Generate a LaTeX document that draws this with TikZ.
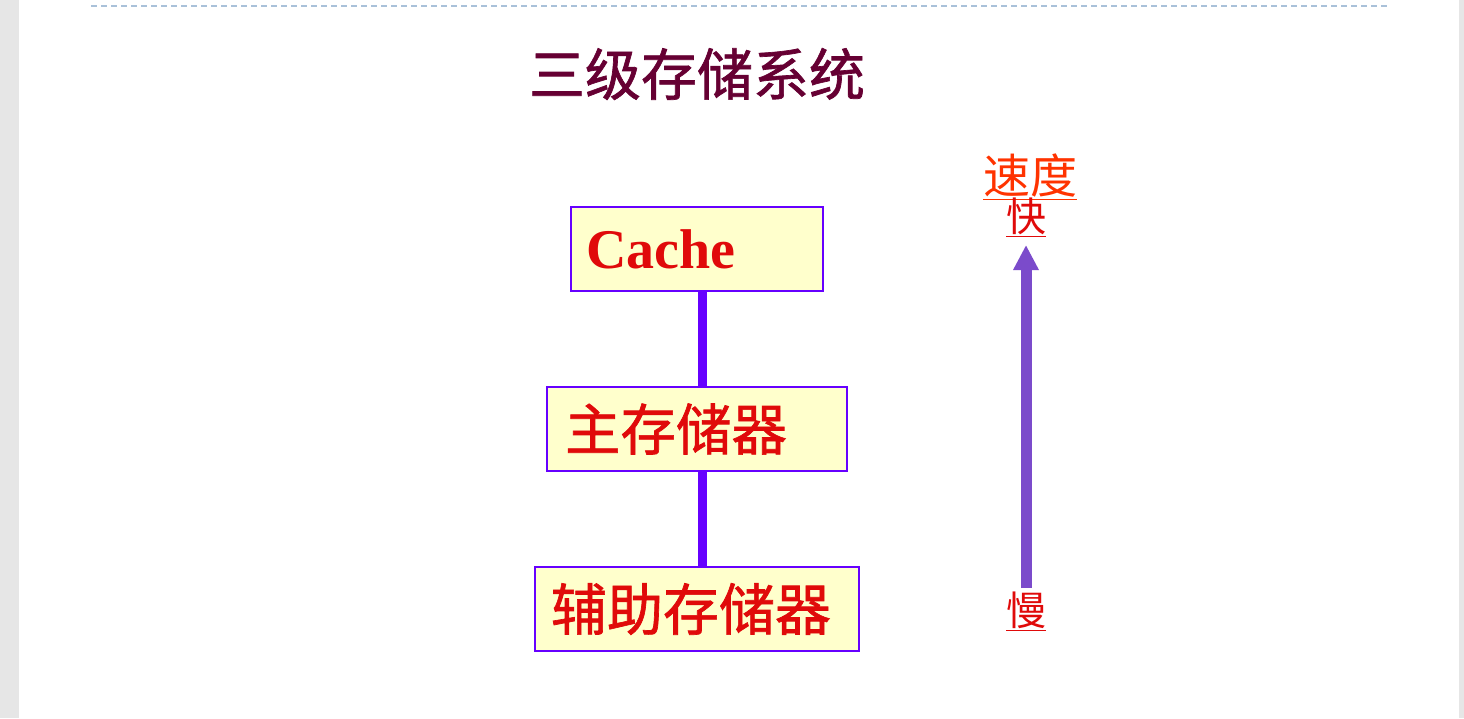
\documentclass[tikz,border=0pt]{standalone}
\usepackage{fontspec}
\setmainfont{Liberation Serif}
\newfontfamily\cjk{Noto Sans CJK SC}
\newfontfamily\cjkm{Noto Sans CJK SC}[FakeBold=1.2]
\usetikzlibrary{arrows.meta}
\definecolor{pagegray}{HTML}{E6E6E6}
\definecolor{dashblue}{HTML}{A9C1D9}
\definecolor{titlecol}{HTML}{660033}
\definecolor{boxfill}{HTML}{FFFFCC}
\definecolor{boxline}{HTML}{6600FF}
\definecolor{labred}{HTML}{E00A0A}
\definecolor{speedcol}{HTML}{FF3300}
\definecolor{arrowcol}{HTML}{7B4BCB}
\tikzset{
  x=1pt, y=-1pt,
  membox/.style={draw=boxline, fill=boxfill, line width=2pt, minimum height=84pt,
    inner xsep=15pt, inner ysep=0pt, align=left, text=labred, anchor=center},
  conn/.style={draw=boxline, line width=9pt},
  lbl/.style={inner sep=0pt, text=labred, font=\cjk\fontsize{40}{40}\selectfont},
}
\begin{document}
\begin{tikzpicture}
\useasboundingbox (0,0) rectangle (1464,718);
\fill[pagegray] (0,0) rectangle (19,718);
\fill[pagegray] (1459,0) rectangle (1464,718);
\draw[dashblue, line width=1.6pt, dash pattern=on 6pt off 4pt] (91,6) -- (1387,6);

\node[inner sep=0pt, text=titlecol, font=\cjkm\fontsize{56}{56}\selectfont] (title) at (697,74) {三级存储系统};

\node[membox, text width=222pt] (cache) at (697,249)
  {\bfseries\fontsize{56}{56}\selectfont Cache};
\node[membox, text width=264pt, inner xsep=18pt] (main) at (697,429)
  {\cjkm\fontsize{55.5}{55.5}\selectfont 主存储器};
\node[membox, text width=292pt, inner xsep=16pt] (aux) at (697,609)
  {\cjkm\fontsize{56}{56}\selectfont 辅助存储器};

\draw[conn] ([xshift=5.5pt]cache.south) -- ([xshift=5.5pt]main.north);
\draw[conn] ([xshift=5.5pt]main.south) -- ([xshift=5.5pt]aux.north);

\node[lbl, text=speedcol, font=\cjk\fontsize{47}{47}\selectfont] (speed) at (1030,177) {\underline{速度}};
\node[lbl] (fast) at (1026,217) {\underline{快}};
\node[lbl] (slow) at (1026,611) {\underline{慢}};

\coordinate (atail) at (1026,588);
\coordinate (ahead) at (1026,245);
\draw[arrowcol, line width=11pt, -{Triangle[width=24pt,length=25pt]}] (atail) -- (ahead);
\end{tikzpicture}
\end{document}
